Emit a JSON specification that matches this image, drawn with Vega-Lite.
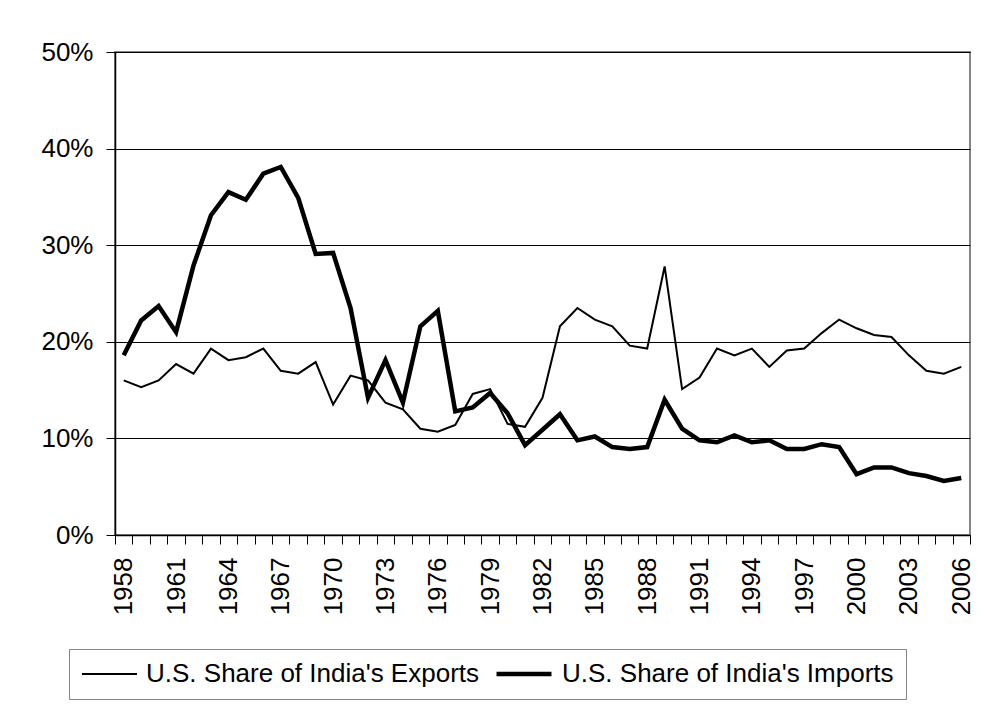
{
  "$schema": "https://vega.github.io/schema/vega-lite/v6.json",
  "width": 855,
  "height": 483,
  "autosize": {"type": "none"},
  "padding": {"left": 115, "top": 52, "right": 12, "bottom": 173},
  "background": "white",
  "config": {
    "font": "Liberation Sans",
    "view": {"stroke": "#868686", "strokeWidth": 2},
    "axis": {
      "labelFont": "Liberation Sans",
      "labelFontSize": 26,
      "labelColor": "black",
      "domainColor": "black",
      "domainWidth": 1.5,
      "tickColor": "black",
      "tickWidth": 1,
      "tickSize": 9,
      "gridColor": "black",
      "gridWidth": 1,
      "gridOpacity": 1
    }
  },
  "data": {
    "values": [
      {"year": 1958, "Exports": 0.160, "Imports": 0.186},
      {"year": 1959, "Exports": 0.153, "Imports": 0.222},
      {"year": 1960, "Exports": 0.160, "Imports": 0.237},
      {"year": 1961, "Exports": 0.177, "Imports": 0.210},
      {"year": 1962, "Exports": 0.167, "Imports": 0.279},
      {"year": 1963, "Exports": 0.193, "Imports": 0.331},
      {"year": 1964, "Exports": 0.181, "Imports": 0.355},
      {"year": 1965, "Exports": 0.184, "Imports": 0.347},
      {"year": 1966, "Exports": 0.193, "Imports": 0.374},
      {"year": 1967, "Exports": 0.170, "Imports": 0.381},
      {"year": 1968, "Exports": 0.167, "Imports": 0.349},
      {"year": 1969, "Exports": 0.179, "Imports": 0.291},
      {"year": 1970, "Exports": 0.135, "Imports": 0.292},
      {"year": 1971, "Exports": 0.165, "Imports": 0.235},
      {"year": 1972, "Exports": 0.160, "Imports": 0.142},
      {"year": 1973, "Exports": 0.137, "Imports": 0.181},
      {"year": 1974, "Exports": 0.130, "Imports": 0.137},
      {"year": 1975, "Exports": 0.110, "Imports": 0.216},
      {"year": 1976, "Exports": 0.107, "Imports": 0.232},
      {"year": 1977, "Exports": 0.114, "Imports": 0.128},
      {"year": 1978, "Exports": 0.146, "Imports": 0.132},
      {"year": 1979, "Exports": 0.151, "Imports": 0.147},
      {"year": 1980, "Exports": 0.115, "Imports": 0.126},
      {"year": 1981, "Exports": 0.112, "Imports": 0.093},
      {"year": 1982, "Exports": 0.142, "Imports": 0.109},
      {"year": 1983, "Exports": 0.216, "Imports": 0.125},
      {"year": 1984, "Exports": 0.235, "Imports": 0.098},
      {"year": 1985, "Exports": 0.223, "Imports": 0.102},
      {"year": 1986, "Exports": 0.216, "Imports": 0.091},
      {"year": 1987, "Exports": 0.196, "Imports": 0.089},
      {"year": 1988, "Exports": 0.193, "Imports": 0.091},
      {"year": 1989, "Exports": 0.278, "Imports": 0.140},
      {"year": 1990, "Exports": 0.151, "Imports": 0.110},
      {"year": 1991, "Exports": 0.163, "Imports": 0.098},
      {"year": 1992, "Exports": 0.193, "Imports": 0.096},
      {"year": 1993, "Exports": 0.186, "Imports": 0.103},
      {"year": 1994, "Exports": 0.193, "Imports": 0.096},
      {"year": 1995, "Exports": 0.174, "Imports": 0.098},
      {"year": 1996, "Exports": 0.191, "Imports": 0.089},
      {"year": 1997, "Exports": 0.193, "Imports": 0.089},
      {"year": 1998, "Exports": 0.209, "Imports": 0.094},
      {"year": 1999, "Exports": 0.223, "Imports": 0.091},
      {"year": 2000, "Exports": 0.214, "Imports": 0.063},
      {"year": 2001, "Exports": 0.207, "Imports": 0.070},
      {"year": 2002, "Exports": 0.205, "Imports": 0.070},
      {"year": 2003, "Exports": 0.186, "Imports": 0.064},
      {"year": 2004, "Exports": 0.170, "Imports": 0.061},
      {"year": 2005, "Exports": 0.167, "Imports": 0.056},
      {"year": 2006, "Exports": 0.174, "Imports": 0.059}
    ]
  },
  "transform": [
    {"fold": ["Exports", "Imports"], "as": ["series", "value"]}
  ],
  "mark": {"type": "line", "color": "black", "strokeJoin": "miter"},
  "encoding": {
    "x": {
      "field": "year",
      "type": "ordinal",
      "bandPosition": 0.5,
      "scale": {"type": "band", "paddingInner": 0, "paddingOuter": 0},
      "axis": {
        "title": null,
        "labelAngle": -90,
        "tickBand": "extent",
        "labelOverlap": false,
        "labelPadding": 13,
        "grid": false,
        "labelExpr": "(+datum.value - 1958) % 3 == 0 ? datum.label : ''"
      }
    },
    "y": {
      "field": "value",
      "type": "quantitative",
      "scale": {"domain": [0, 0.5], "nice": false},
      "axis": {
        "title": null,
        "format": ".0%",
        "values": [0, 0.1, 0.2, 0.3, 0.4, 0.5],
        "grid": true,
        "labelPadding": 13
      }
    },
    "strokeWidth": {
      "field": "series",
      "type": "nominal",
      "scale": {"domain": ["Exports", "Imports"], "range": [2, 4.5]},
      "legend": {
        "title": null,
        "orient": "none",
        "legendX": -46,
        "legendY": 597,
        "direction": "horizontal",
        "strokeColor": "#868686",
        "fillColor": "white",
        "padding": 12,
        "clipHeight": 26,
        "labelFont": "Liberation Sans",
        "labelFontSize": 26,
        "labelColor": "black",
        "labelLimit": 600,
        "labelOffset": 8,
        "columnPadding": 14,
        "symbolType": "stroke",
        "symbolSize": 3025,
        "symbolStrokeColor": "black",
        "labelExpr": "\"U.S. Share of India's \" + datum.label"
      }
    }
  }
}
